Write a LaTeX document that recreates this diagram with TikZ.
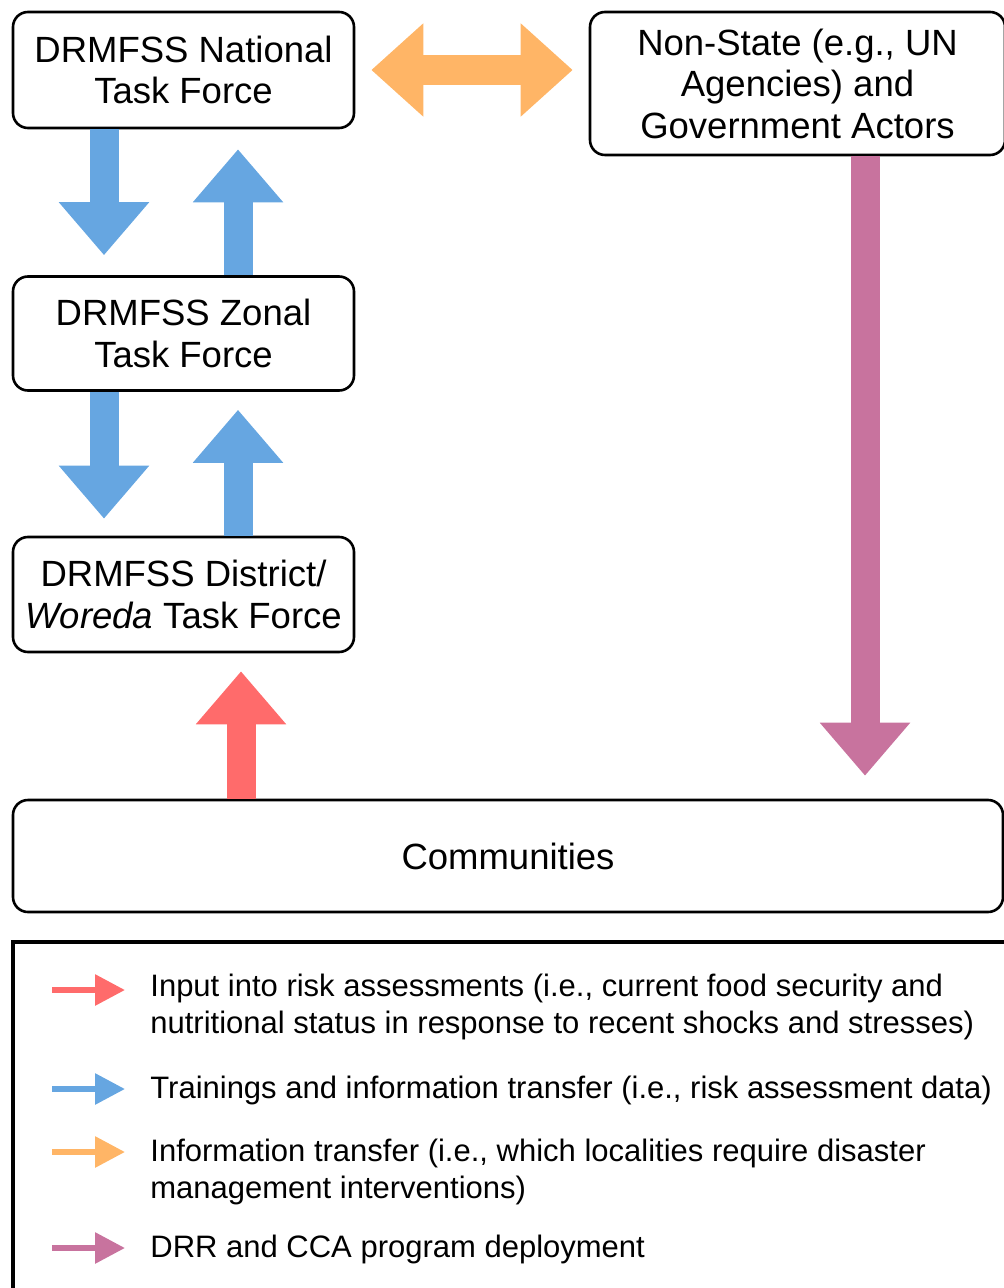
\documentclass[tikz,border=0pt]{standalone}
\usepackage{fontspec}
\setmainfont{Liberation Sans}
\usetikzlibrary{arrows.meta}
\definecolor{trainblue}{RGB}{102,166,225}
\definecolor{infoorange}{RGB}{255,181,102}
\definecolor{inputred}{RGB}{255,107,107}
\definecolor{deploypink}{RGB}{200,115,158}

\begin{document}
\begin{tikzpicture}[x=0.5pt,y=-0.5pt,
    box/.style={draw,line width=1.3pt,rounded corners=7.5pt,align=center,inner sep=0pt,
      font=\fontsize{18.25}{20.75}\selectfont},
    fat/.style={line width=14.5pt,-{Triangle[length=26.5pt,width=43.5pt]}},
    keyarrow/.style={line width=3pt,-{Triangle[length=15pt,width=15pt]}},
    keytext/.style={anchor=base west,align=left,inner sep=0pt,
      font=\fontsize{15.5}{18.5}\selectfont}]
  \useasboundingbox (0,0) rectangle (1004,1288);
  \node[box,minimum width=170.5pt,minimum height=58pt] (nat) at (183.5,70) {DRMFSS National\\Task Force};
  \node[box,minimum width=170.5pt,minimum height=57pt] (zon) at (183.5,333.5) {DRMFSS Zonal\\Task Force};
  \node[box,minimum width=170.5pt,minimum height=57.5pt] (dis) at (183.5,594.5) {DRMFSS District/\\\textit{Woreda} Task Force};
  \node[box,minimum width=207.5pt,minimum height=71.5pt] (non) at (797.5,83.5) {Non-State (e.g., UN\\Agencies) and\\Government Actors};
  \node[box,minimum width=495pt,minimum height=56pt] (com) at (508,856) {Communities};
  \path[fat,trainblue]
    ([xshift=-39.75pt]nat.south) edge[shorten >=10pt] ([xshift=-39.75pt]zon.north)
    ([xshift=27.25pt]zon.north) edge[shorten >=10pt] ([xshift=27.25pt]nat.south)
    ([xshift=-39.75pt]zon.south) edge[shorten >=8.5pt] ([xshift=-39.75pt]dis.north)
    ([xshift=27.25pt]dis.north) edge[shorten >=9pt] ([xshift=27.25pt]zon.south);
  \draw[fat,inputred,shorten >=9pt] ([xshift=-133.5pt]com.north) -- ([xshift=28.75pt]dis.south);
  \draw[fat,deploypink,shorten >=11.5pt] ([xshift=33.75pt]non.south) -- ([xshift=178.5pt]com.north);
  \draw[line width=15pt,infoorange,{Triangle[length=26pt,width=45pt]}-{Triangle[length=26pt,width=45pt]},
    shorten <=8pt,shorten >=8pt] (nat.east) -- (non.west |- nat.east);
  \draw[line width=1.6pt] (13,942) rectangle (1020,1300);
  \coordinate (k1) at (52,990);
  \coordinate (k2) at (52,1089);
  \coordinate (k3) at (52,1152);
  \coordinate (k4) at (52,1248);
  \draw[keyarrow,inputred] (k1) -- ++(73,0);
  \draw[keyarrow,trainblue] (k2) -- ++(73,0);
  \draw[keyarrow,infoorange] (k3) -- ++(73,0);
  \draw[keyarrow,deploypink] (k4) -- ++(73,0);
  \node[keytext] (t1) at (150,1033) {Input into risk assessments (i.e., current food security and\\nutritional status in response to recent shocks and stresses)};
  \node[keytext] (t2) at (150,1098) {Trainings and information transfer (i.e., risk assessment data)};
  \node[keytext] (t3) at (150,1198) {Information transfer (i.e., which localities require disaster\\management interventions)};
  \node[keytext] (t4) at (150,1257) {DRR and CCA program deployment};
\end{tikzpicture}
\end{document}
